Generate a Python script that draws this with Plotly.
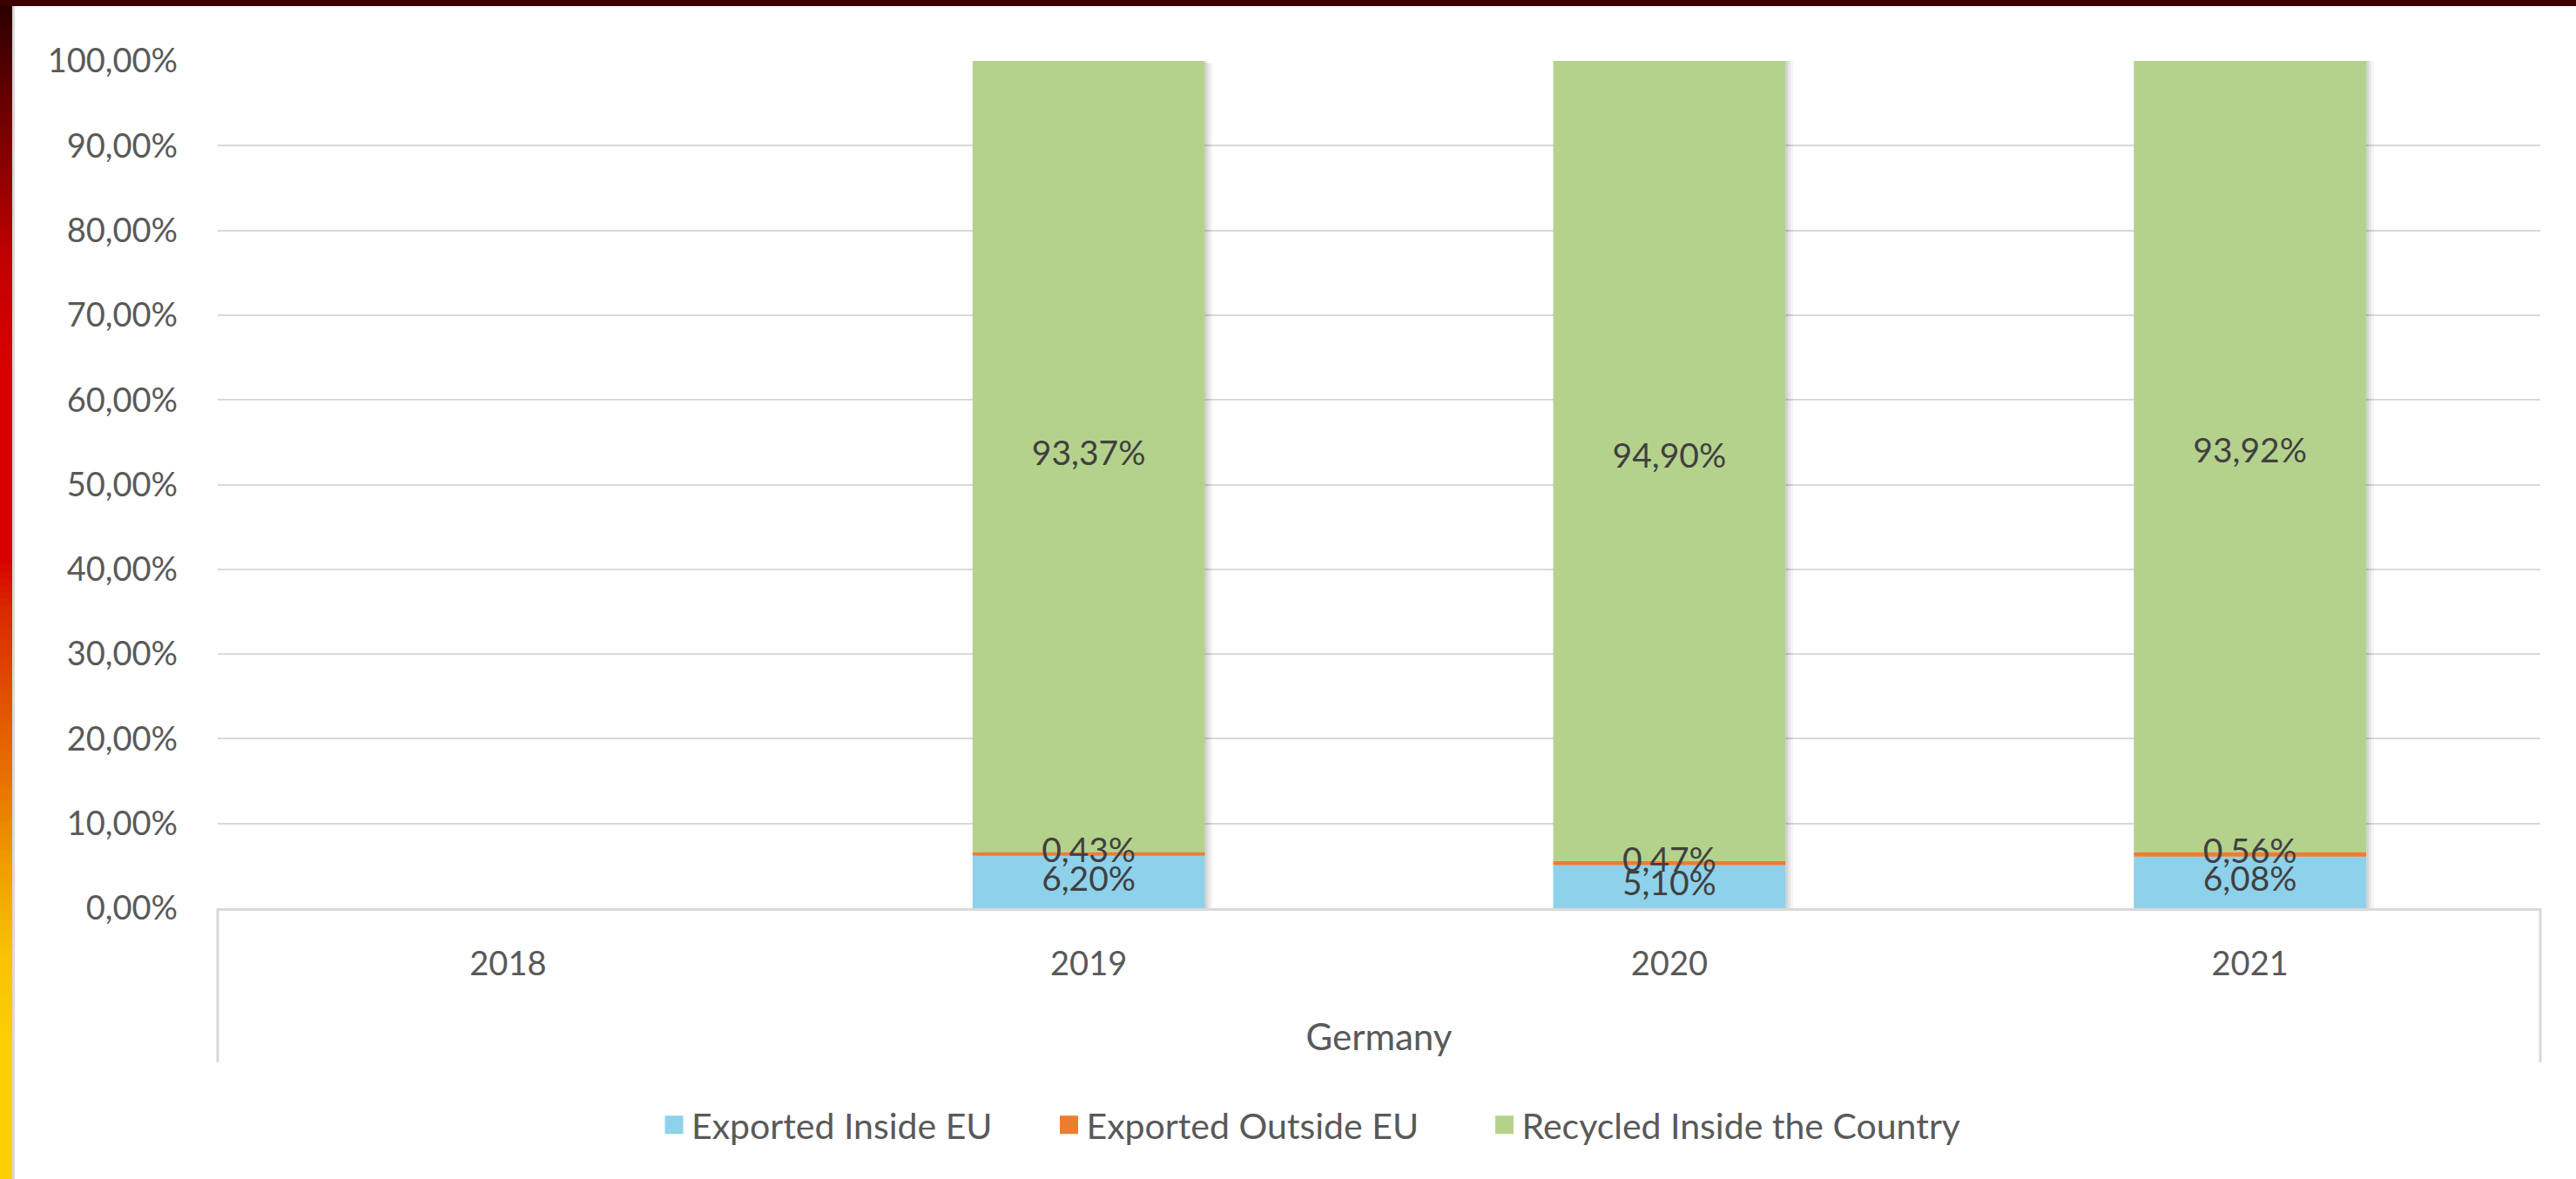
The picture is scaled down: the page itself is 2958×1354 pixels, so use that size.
import plotly.graph_objects as go

# ---- data ----
country = "Germany"
years = ["2018", "2019", "2020", "2021"]
exported_inside_eu = [None, 0.0620, 0.0510, 0.0608]
exported_outside_eu = [None, 0.0043, 0.0047, 0.0056]
recycled_inside = [None, 0.9337, 0.9490, 0.9392]

series_names = ["Exported Inside EU", "Exported Outside EU", "Recycled Inside the Country"]
series_colors = ["#8ED1EB", "#ED7D31", "#B5D28C"]
y_ticks = [i / 10 for i in range(11)]

W, H = 2958, 1354
L, R, T, B = 250, 41, 70, 311
FONT = "Lato"
FS = 38
BAR_W = 0.4

series = [exported_inside_eu, exported_outside_eu, recycled_inside]

fig = go.Figure()

# soft shadow behind each stacked column
totals = []
for i in range(len(years)):
    vals = [s[i] for s in series]
    totals.append(None if any(v is None for v in vals) else sum(vals))
for shift_px, alpha in [(9, 0.04), (6, 0.06), (3, 0.08)]:
    fig.add_trace(go.Bar(
        x=years, y=totals, base=-shift_px * 0.00035,
        width=BAR_W, offset=-BAR_W / 2 + shift_px / 667,
        marker=dict(color="rgba(0,0,0,%.2f)" % alpha, line=dict(width=0)),
        showlegend=False, hoverinfo="skip",
    ))

# stacked segments (explicit bases, overlay mode)
bases = [0.0 if v is not None else None for v in exported_inside_eu]
label_y, label_v, label_x = [], [], []
for name, vals, col in zip(series_names, series, series_colors):
    fig.add_trace(go.Bar(
        x=years, y=vals, base=bases, width=BAR_W, name=name,
        marker=dict(color=col, line=dict(width=0)),
        showlegend=False, hoverinfo="skip",
    ))
    for x, b, v in zip(years, bases, vals):
        if v is not None:
            label_x.append(x)
            label_y.append(b + v / 2)
            label_v.append(v)
    bases = [None if (b is None or v is None) else b + v for b, v in zip(bases, vals)]

# data labels centred in each segment
fig.add_trace(go.Scatter(
    x=label_x, y=label_y, customdata=label_v, mode="text",
    texttemplate="%{customdata:.2%}", textposition="middle center",
    textfont=dict(family=FONT, size=39, color="#404040"),
    showlegend=False, hoverinfo="skip",
))

# legend entries (trailing no-break spaces only widen the gap between entries)
legend_pad = [6, 7, 0]
for name, col, pad in zip(series_names, series_colors, legend_pad):
    fig.add_trace(go.Scatter(
        x=[None], y=[None], mode="markers", name=name + "\u00a0" * pad,
        marker=dict(symbol="square", size=16, color=col, line=dict(color=col, width=5)),
        showlegend=True, hoverinfo="skip",
    ))

# decorative frame: top band and left gradient strip
def px_to_paper_x(px):
    return (px - L) / (W - L - R)

def py_to_paper_y(py):
    return (H - B - py) / (H - T - B)

stops = [(0, (40, 0, 0)), (150, (120, 0, 0)), (300, (195, 0, 0)), (420, (216, 0, 0)),
         (640, (216, 0, 0)), (700, (218, 40, 0)), (800, (225, 80, 0)), (900, (232, 115, 0)),
         (1000, (240, 160, 0)), (1100, (248, 195, 0)), (1200, (252, 208, 0)), (1354, (252, 208, 0))]

def color_at(py):
    for (p0, c0), (p1, c1) in zip(stops[:-1], stops[1:]):
        if p0 <= py <= p1:
            t = (py - p0) / (p1 - p0) if p1 > p0 else 0
            return "rgb(%d,%d,%d)" % tuple(round(a + (b - a) * t) for a, b in zip(c0, c1))
    return "rgb(252,208,0)"

shapes = []
step = 8
for py in range(0, H, step):
    shapes.append(dict(type="rect", xref="paper", yref="paper", layer="above",
                       x0=px_to_paper_x(0), x1=px_to_paper_x(14),
                       y0=py_to_paper_y(py + step + 0.5), y1=py_to_paper_y(py),
                       fillcolor=color_at(py + step / 2), line=dict(width=0)))
shapes.append(dict(type="rect", xref="paper", yref="paper", layer="above",
                   x0=px_to_paper_x(14), x1=px_to_paper_x(17),
                   y0=py_to_paper_y(H), y1=py_to_paper_y(7),
                   fillcolor="#DADADA", line=dict(width=0)))
shapes.append(dict(type="rect", xref="paper", yref="paper", layer="above",
                   x0=px_to_paper_x(0), x1=px_to_paper_x(W),
                   y0=py_to_paper_y(7), y1=py_to_paper_y(0),
                   fillcolor="#3C0000", line=dict(width=0)))
# category-group dividers (outer level of the category axis)
for xp in (0, 1):
    shapes.append(dict(type="line", xref="paper", yref="paper", layer="below",
                       x0=xp, x1=xp, y0=0, y1=py_to_paper_y(1220),
                       line=dict(color="#D9D9D9", width=3)))

fig.update_layout(
    width=W, height=H,
    margin=dict(l=L, r=R, t=T, b=B, autoexpand=False),
    paper_bgcolor="white", plot_bgcolor="white",
    barmode="overlay",
    separators=",.",
    font=dict(family=FONT, size=FS, color="#595959"),
    showlegend=True,
    legend=dict(orientation="h", x=px_to_paper_x(1505), xanchor="center",
                y=py_to_paper_y(1292), yanchor="middle",
                font=dict(family=FONT, size=41, color="#595959"), traceorder="normal",
                itemsizing="trace"),
    shapes=shapes,
    xaxis=dict(type="category", showline=True, linecolor="#D9D9D9", linewidth=3,
               showgrid=False, ticks="", ticklabelstandoff=28,
               tickfont=dict(family=FONT, size=FS, color="#595959"),
               title=dict(text=country, standoff=51, font=dict(family=FONT, size=42, color="#595959"))),
    yaxis=dict(range=[0, 1], tickvals=y_ticks, tickformat=".2%", showgrid=True,
               gridcolor="#D9D9D9", gridwidth=2, zeroline=False, showline=False, ticks="",
               ticklabelstandoff=45,
               tickfont=dict(family=FONT, size=FS, color="#595959")),
)

fig.write_html("out.html", config={"displayModeBar": False},
               post_script="document.body.style.margin='0';document.body.style.overflow='hidden';")
